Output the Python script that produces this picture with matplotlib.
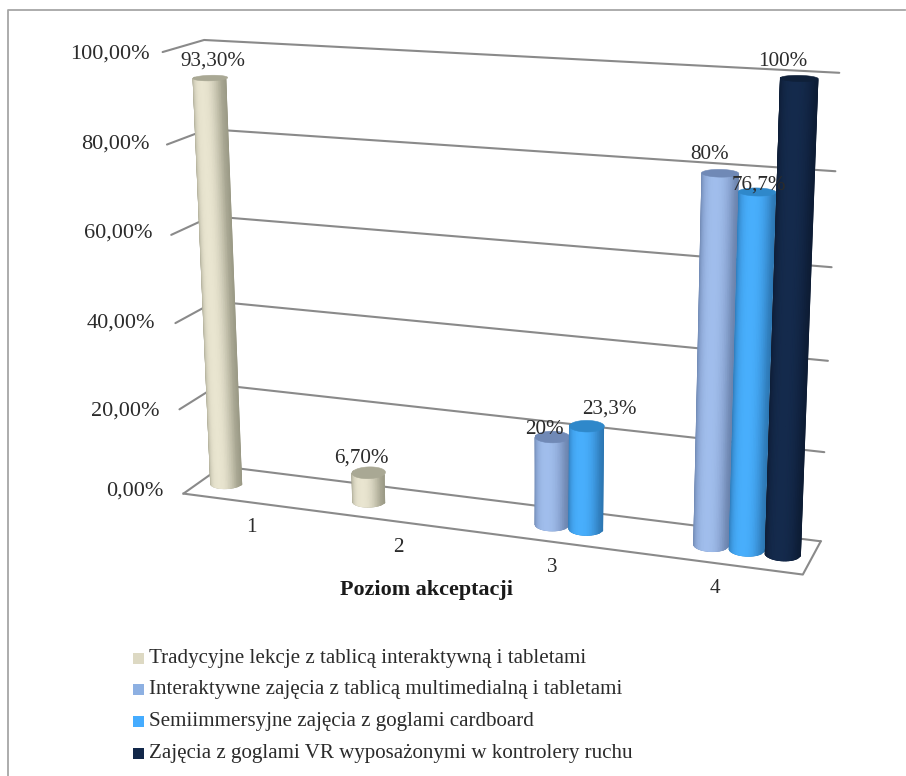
import numpy as np
import matplotlib
matplotlib.use('Agg')
import matplotlib.pyplot as plt
from matplotlib.colors import LinearSegmentedColormap
from matplotlib.patches import Polygon, Rectangle

plt.rcParams['font.family'] = ['Liberation Serif', 'DejaVu Serif']

# dane
kategorie = ['1', '2', '3', '4']
serie = ['Tradycyjne lekcje z tablicą interaktywną i tabletami',
         'Interaktywne zajęcia z tablicą multimedialną i tabletami',
         'Semiimmersyjne zajęcia z goglami cardboard',
         'Zajęcia z goglami VR wyposażonymi w kontrolery ruchu']
tradycyjne = [93.3, 6.7, 0, 0]
interaktywne = [0, 0, 20, 80]
semiimmersyjne = [0, 0, 23.3, 76.7]
vr = [0, 0, 0, 100]
wartosci = [tradycyjne, interaktywne, semiimmersyjne, vr]
etykiety = [['93,30%', '6,70%', '', ''],
            ['', '', '20%', '80%'],
            ['', '', '23,3%', '76,7%'],
            ['', '', '', '100%']]
os_y = [0, 20, 40, 60, 80, 100]
os_y_tekst = ['0,00%', '20,00%', '40,00%', '60,00%', '80,00%', '100,00%']

# kolory: srodek, brzeg, wierzch
kolory = [('#E9E5D0', '#9A9985', '#A9A894'),
          ('#A0BDEC', '#6A82AC', '#7089B6'),
          ('#48AEFC', '#2C76B2', '#2F88CA'),
          ('#142A4C', '#0D1C34', '#0F2039')]
legenda_kolory = ['#DDD9C3', '#8DB0E2', '#45ACFF', '#12284A']
# przesuniecie etykiet wzgledem wierzchu
przes = {(0, 0): (2, -17), (0, 1): (-7, -15), (1, 2): (-8, -7), (2, 2): (22, -17),
         (1, 3): (-11, -19), (2, 3): (2, -7), (3, 3): (-16, -17)}
# przesuniecie opisow osi y
os_dx = [-20, -20, -20, -19, -17, -13]
os_dy = [-3, 2, 0, -2, 0, 2]

# rzut perspektywiczny (s, glebokosc, wartosc) -> piksele, z punktow rogow wykresu
kotwice = [(0, 0, 0, 183, 492), (1, 0, 0, 803, 574), (0, 1, 0, 222, 466), (1, 1, 0, 820, 541),
           (0, 1, 100, 204, 40), (1, 1, 100, 838, 72), (1, 1, 80, 835, 172), (1, 1, 60, 832, 267),
           (1, 1, 40, 829, 361), (1, 1, 20, 825, 453), (0, 1, 80, 208, 129),
           (0, 0, 100, 163, 51), (0, 0, 80, 167, 144), (0, 0, 60, 172, 236),
           (0, 0, 40, 175, 325), (0, 0, 20, 179, 410)]
A = []
b = []
for s, d, v, px, py in kotwice:
    A.append([s, d, v, 1, 0, 0, 0, 0, -px * s, -px * d, -px * v])
    b.append(px)
    A.append([0, 0, 0, 0, s, d, v, 1, -py * s, -py * d, -py * v])
    b.append(py)
h = np.linalg.lstsq(np.array(A, float), np.array(b, float), rcond=None)[0]
M = np.append(h, 1).reshape(3, 4)


def rzut(s, d, v):
    s, d, v = np.broadcast_arrays(s, d, v)
    p = M @ np.vstack([s.ravel(), d.ravel(), v.ravel(), np.ones(s.size)])
    return np.column_stack([p[0] / p[2], p[1] / p[2]])


fig = plt.figure(figsize=(9.06, 7.76), dpi=100)
ax = fig.add_axes([0, 0, 1, 1])
ax.set_xlim(0, 906)
ax.set_ylim(776, 0)
ax.axis('off')
# ramka: gora i lewa
ax.plot([8, 8, 905], [776, 10, 10], color='#A6A6A6', lw=1.3)

# siatka
szary = '#8A8A8A'
for n, (v, t) in enumerate(zip(os_y, os_y_tekst)):
    p = rzut([0, 0, 1], [0, 1, 1], v)
    ax.plot(p[:, 0], p[:, 1], color=szary, lw=1.5, solid_capstyle='round', solid_joinstyle='round')
    ax.text(p[0, 0] + os_dx[n], p[0, 1] + os_dy[n], t, ha='right', va='center', fontsize=16,
            color='#2B2B2B')
p = rzut([0, 1, 1], [0, 0, 1], 0)
ax.plot(p[:, 0], p[:, 1], color=szary, lw=1.5, solid_joinstyle='round')

# cylindry
odstep = 0.6
r_s = 0.0262
r_d = 0.2


def srodek(i, k):
    return (i + (odstep / 2 + k + 0.5) / (4 + odstep)) / 4


def cylinder(i, k, v):
    cs = srodek(i, k)
    srod, brzeg, wierzch_kol = kolory[k]
    cmapa = LinearSegmentedColormap.from_list('c' + str(k), [srod, brzeg])
    # przednia polowa, rowno w poprzek cylindra
    t = np.linspace(-1, 1, 25)
    xs = cs + r_s * t
    ds = 0.5 - r_d * np.sqrt(1 - t ** 2)
    dol = rzut(xs, ds, 0)
    gora = rzut(xs, ds, v)
    # podklad w kolorze brzegu, wygladza krawedz
    obrys = np.vstack([dol, gora[::-1]])
    ax.add_patch(Polygon(obrys, closed=True, fc=brzeg, ec=brzeg, lw=0.6, zorder=3))
    X = np.vstack([dol[:, 0], gora[:, 0]])
    Y = np.vstack([dol[:, 1], gora[:, 1]])
    f = np.abs(t) ** 2.6
    ax.pcolormesh(X, Y, np.vstack([f, f]), shading='gouraud', cmap=cmapa, vmin=0, vmax=1, zorder=3)
    th2 = np.linspace(0, 2 * np.pi, 81)
    wierzch = rzut(cs + r_s * np.cos(th2), 0.5 + r_d * np.sin(th2), v)
    ax.add_patch(Polygon(wierzch, closed=True, fc=wierzch_kol, ec=wierzch_kol, lw=0.4, zorder=3))
    return rzut(cs, 0.5, v)[0]


gory = {}
for i in range(4):
    for k in range(4):
        if wartosci[k][i] > 0:
            gory[(k, i)] = cylinder(i, k, wartosci[k][i])

for (k, i), g in gory.items():
    dx, dy = przes[(k, i)]
    ax.text(g[0] + dx, g[1] + dy, etykiety[k][i], ha='center', va='center', fontsize=15.2,
            color='#2B2B2B', zorder=5)

# kategorie
for i, c in enumerate(kategorie):
    p = rzut((i + 0.5) / 4, 0, 0)[0]
    ax.text(p[0] - 3, p[1] + 25, c, ha='center', va='center', fontsize=15.2, color='#2B2B2B')

ax.text(426, 590, 'Poziom akceptacji', ha='center', va='center', fontsize=15.9,
        fontweight='bold', color='#1A1A1A')

# legenda
ly = [658.5, 689.5, 721.5, 753.5]
for y, s, c in zip(ly, serie, legenda_kolory):
    ax.add_patch(Rectangle((133, y - 5.5), 11, 11, fc=c, ec='none'))
    ax.text(149, y, s, ha='left', va='center', fontsize=15.1, color='#2B2B2B')

ax.set_xlim(0, 906)
ax.set_ylim(776, 0)
fig.savefig('out.png', dpi=100)
